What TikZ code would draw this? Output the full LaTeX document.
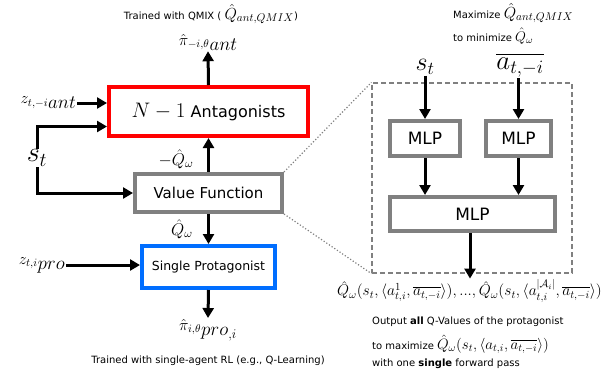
\RequirePackage{fix-cm}
\documentclass[tikz,border=0pt]{standalone}
\usepackage{amsmath}
\usepackage{fontspec}
\setmainfont{DejaVu Sans}
\usetikzlibrary{arrows.meta,positioning}
\definecolor{myred}{RGB}{255,0,0}
\definecolor{myblue}{RGB}{0,110,255}
\definecolor{mygray}{RGB}{128,128,128}
\newcommand{\fs}[1]{\fontsize{#1}{#1}\selectfont}
\newcommand{\hilo}[2]{\raisebox{5pt}{\fs{16}$#1$}\fs{19}$#2$}
\tikzset{
  boxbase/.style={draw, line width=4pt, fill=white, inner sep=0pt},
  redbox/.style={boxbase, draw=myred},
  graybox/.style={boxbase, draw=mygray},
  bluebox/.style={boxbase, draw=myblue},
  arr/.style={line width=3pt, -{Triangle[length=10pt,width=11pt]}},
  lbl/.style={inner sep=1pt},
  caption/.style={inner sep=0pt, font=\fs{10}},
  dotline/.style={draw=mygray, line width=1.2pt, dotted},
  dashbox/.style={draw=mygray, line width=1.2pt, dash pattern=on 5pt off 3pt, inner sep=0pt},
}
\begin{document}
\begin{tikzpicture}[x=1pt,y=-1pt]
\useasboundingbox (0,0) rectangle (607,375);
% left column boxes
\node[redbox, minimum width=199pt, minimum height=49pt, font=\fs{16}] (ant) at (208.5,111.5) {{\fs{21}$N-1$} Antagonists};
\node[graybox, minimum width=147pt, minimum height=38pt, font=\fs{15}] (vf) at (208.5,193) {Value Function};
\node[bluebox, minimum width=133pt, minimum height=42pt, font=\fs{12.5}] (pro) at (208.5,267) {Single Protagonist};
% labels
\node[caption] (tq) at (211,14) {Trained with QMIX ( {\fs{16}$\hat{Q}_{ant,QMIX}$})};
\node[lbl] (piant) at (208,42) {\hilo{\hat{\pi}_{-i,\theta}}{ant}};
\node[lbl, anchor=east] (zant) at (77,103) {\hilo{z_{t,-i}}{ant}};
\node[lbl, font=\fs{28}] (st) at (37,158) {$s_t$};
\node[lbl, font=\fs{17}] (mq) at (176,159) {$-\hat{Q}_\omega$};
\node[lbl, font=\fs{17}] (q) at (182,229) {$\hat{Q}_\omega$};
\node[lbl, anchor=east] (zpro) at (66,265) {\hilo{z_{t,i}}{pro}};
\node[lbl] (pipro) at (208,330) {\hilo{\hat{\pi}_{i,\theta}}{pro_{,i}}};
\node[caption] (tsa) at (208,361) {Trained with single-agent RL (e.g., Q-Learning)};
% left connectors
\draw[arr] (ant.north) -- (piant.south);
\draw[arr] (zant.east) -- (zant.east -| ant.west);
\draw[arr] (st.north) |- ([yshift=-15pt]ant.west);
\draw[arr] (st.south) |- (vf.west);
\draw[arr] (vf.north) -- (ant.south);
\draw[arr] (vf.south) -- (pro.north);
\draw[arr] (zpro.east) -- (zpro.east -| pro.west);
\draw[arr] (pro.south) -- (pipro.north);
% right detail
\node[dashbox, minimum width=200pt, minimum height=190pt] (dbox) at (472,178) {};
\node[graybox, minimum width=70pt, minimum height=35pt, font=\fs{17}] (m1) at (425,138.5) {MLP};
\node[graybox, minimum width=65pt, minimum height=35pt, font=\fs{17}] (m2) at (518.5,138.5) {MLP};
\node[graybox, minimum width=165pt, minimum height=34pt, font=\fs{17}] (m3) at (472.5,214) {MLP};
\node[lbl, font=\fs{26}] (st2) at (425,67) {$s_t$};
\node[lbl, font=\fs{27}] (abar) at (520,65) {$\overline{a_{t,-i}}$};
\node[caption, align=left, anchor=north west] (maxq) at (453,3) {Maximize {\fs{16}$\hat{Q}_{ant,QMIX}$}\\[4pt]to minimize {\fs{14}$\hat{Q}_\omega$}};
\node[lbl, font=\fs{15.5}] (outq) at (469.5,291) {$\hat{Q}_\omega(s_t,\langle a^1_{t,i},\overline{a_{t,-i}}\rangle),...,\hat{Q}_\omega(s_t,\langle a^{|\mathcal{A}_i|}_{t,i},\overline{a_{t,-i}}\rangle)$};
\node[caption, align=left, anchor=north west] (outtxt) at (372,317) {Output \textbf{all} Q-Values of the protagonist\\[7pt]to maximize {\fs{15}$\hat{Q}_\omega(s_t,\langle a_{t,i},\overline{a_{t,-i}}\rangle)$}\\[5pt]with one \textbf{single} forward pass};
\draw[arr] (st2.south) -- (m1.north);
\draw[arr] (abar.south -| m2.north) -- (m2.north);
\draw[arr] (m1.south) -- (m1.south |- m3.north);
\draw[arr] (m2.south) -- (m2.south |- m3.north);
\draw[arr] ([xshift=-2.5pt]m3.south) -- ([xshift=-2.5pt]m3.south |- outq.north);
\draw[dotline] (vf.north east) -- (dbox.north west);
\draw[dotline] (vf.south east) -- (dbox.south west);
\end{tikzpicture}
\end{document}
